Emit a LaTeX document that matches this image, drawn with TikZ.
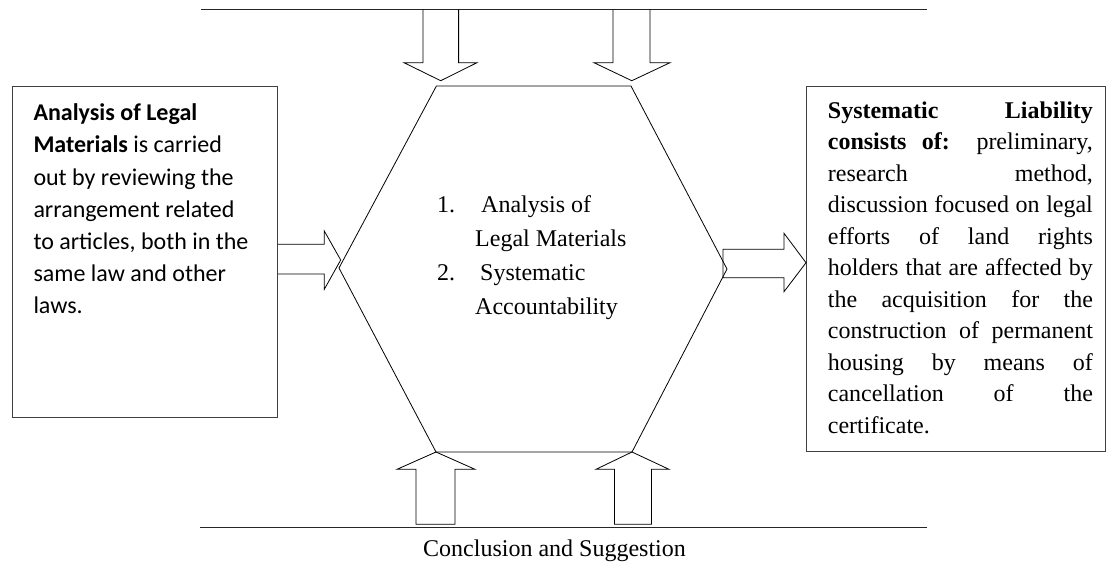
\documentclass[tikz,border=0pt]{standalone}
\usepackage{fontspec}
\setmainfont{Liberation Serif}
\newfontfamily\calibri{Carlito}
\begin{document}
\begin{tikzpicture}[x=1pt,y=-1pt,
  ln/.style={draw=black!85,line width=1pt},
  frame/.style={draw=black!75,line width=1.2pt},
  blk/.style={draw=black,line width=0.8pt,line join=miter},
  txt/.style={inner sep=0pt,anchor=base west,align=left}]
\useasboundingbox (0,0) rectangle (1109,563);
% horizontal lines
\coordinate (t1) at (201,9.3); \coordinate (t2) at (927,9.3);
\coordinate (b1) at (200,527.3); \coordinate (b2) at (927,527.3);
\draw[ln] (t1) -- (t2);
\draw[ln] (b1) -- (b2);
% hexagon
\coordinate (hA) at (436.4,86);
\coordinate (hB) at (631,86);
\coordinate (hC) at (727,269);
\coordinate (hD) at (632,452);
\coordinate (hE) at (436,452);
\coordinate (hF) at (339,268);
\draw[blk] (hA) -- (hB) -- (hC) -- (hD) -- (hE) -- (hF) -- cycle;
% boxes
\node[frame,anchor=north west,minimum width=265pt,minimum height=330.7pt,inner sep=0pt] (lbox) at (11.7,86) {};
\node[frame,anchor=north west,minimum width=299pt,minimum height=364.7pt,inner sep=0pt] (rbox) at (806,86) {};
% top arrows (down)
\draw[blk] (423,9.3) -- (423,62.7) -- (404,62.7) -- (440.7,80.7) -- (477,62.7) -- (458.6,62.7) -- (458.6,9.3);
\draw[blk] (613,9.3) -- (613,62.7) -- (594,62.7) -- (631.8,80.7) -- (670,62.7) -- (650,62.7) -- (650,9.3);
% bottom arrows (up)
\draw[blk] (416,524.3) -- (416,469.3) -- (397,469.3) -- (hE) -- (475,469.3) -- (455,469.3) -- (455,524.3) -- cycle;
\draw[blk] (614.5,524.3) -- (614.5,469.3) -- (596,469.3) -- (hD) -- (669,469.3) -- (651.5,469.3) -- (651.5,524.3) -- cycle;
% left arrow
\draw[blk] (lbox.east |- 0,244.3) -- (324.3,244.3) -- (324.3,231) -- (340.7,260) -- (324.3,289.3) -- (324.3,274) -- (lbox.east |- 0,274);
% right arrow
\draw[blk] (723,249.3) -- (784,249.3) -- (784,233.3) -- (rbox.west |- 0,262.7) -- (784,291.7) -- (784,277.7) -- (723,277.7) -- cycle;
% texts (base anchor = last line's baseline)
\node[txt,font=\calibri\fontsize{24}{32.2}\selectfont] (ltxt) at (33.3,313.9)
 {\textbf{Analysis of Legal}\\
  \textbf{Materials} is carried\\
  out by reviewing the\\
  arrangement related\\
  to articles, both in the\\
  same law and other\\
  laws.};
\node[txt,font=\fontsize{24}{31.5}\selectfont] (rtxt) at (827.7,433.3)
 {\makebox[265pt][s]{\textbf{Systematic Liability}}\\
  \makebox[265pt][s]{\textbf{consists of:} preliminary,}\\
  \makebox[265pt][s]{research method,}\\
  \makebox[265pt][s]{discussion focused on legal}\\
  \makebox[265pt][s]{efforts of land rights}\\
  \makebox[265pt][s]{holders that are affected by}\\
  \makebox[265pt][s]{the acquisition for the}\\
  \makebox[265pt][s]{construction of permanent}\\
  \makebox[265pt][s]{housing by means of}\\
  \makebox[265pt][s]{cancellation of the}\\
  certificate.};
\node[txt,font=\fontsize{24}{34}\selectfont] (ctxt) at (437,314)
 {\makebox[44pt][l]{1.}Analysis of\\
  \hspace*{38pt}Legal Materials\\
  \makebox[43pt][l]{2.}Systematic\\
  \hspace*{38pt}Accountability};
\node[txt,font=\fontsize{24}{28}\selectfont] (btxt) at (423,556.7) {Conclusion and Suggestion};
\end{tikzpicture}
\end{document}
